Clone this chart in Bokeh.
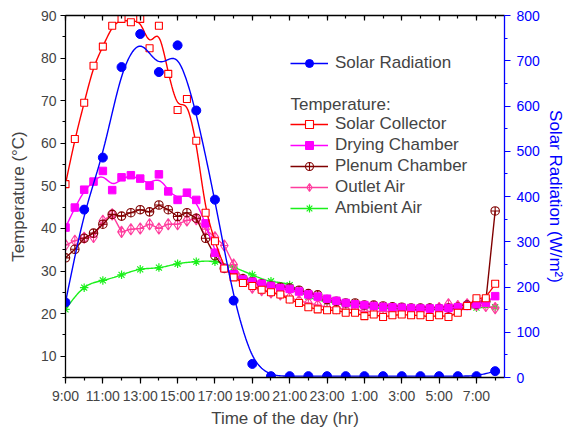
import numpy as np
from bokeh.plotting import figure
from bokeh.models import (Range1d, LinearAxis, FixedTicker, SingleIntervalTicker,
                          Legend, LegendItem, Label)
from bokeh.embed import file_html
from bokeh.resources import INLINE

# ---------------- data ----------------
# x = hours after 9:00
hours = list(range(24))
half_hours = [i * 0.5 for i in range(47)]
tick_hours = list(range(0, 24, 2))
tick_labels = ["9:00", "11:00", "13:00", "15:00", "17:00", "19:00",
               "21:00", "23:00", "1:00", "3:00", "5:00", "7:00"]

solar_radiation = [166, 371, 486, 686, 759, 675, 734, 590, 393, 170, 30, 3,
                   3, 3, 3, 3, 3, 3, 3, 3, 3, 3, 3, 14]

solar_collector = [50.4, 61.0, 69.5, 78.2, 82.7, 87.6, 89.2, 88.4, 89.2, 82.3,
                   87.6, 76.3, 67.8, 70.4, 60.6, 43.7, 37.0, 30.6, 28.5, 27.2,
                   26.5, 25.6, 25.0, 24.5, 23.3, 22.5, 21.5, 21.0, 20.8, 20.8,
                   20.2, 20.2, 19.4, 19.8, 19.2, 19.6, 19.8, 19.6, 19.6, 19.2,
                   19.6, 19.2, 20.2, 21.8, 23.6, 23.6, 27.0]

drying_chamber = [40.2, 44.9, 49.1, 51.0, 53.5, 49.0, 52.0, 52.5, 51.7, 50.0,
                  52.7, 48.7, 46.7, 48.4, 46.7, 41.2, 34.3, 30.7, 29.2, 28.0,
                  27.5, 27.0, 26.5, 26.0, 25.8, 25.2, 24.5, 24.0, 23.5, 23.0,
                  22.5, 22.2, 22.0, 21.8, 21.6, 21.5, 21.4, 21.3, 21.2, 21.2,
                  21.2, 21.3, 21.5, 21.8, 22.2, 22.6, 24.1]

plenum_chamber = [33.1, 35.1, 37.7, 38.9, 41.0, 43.3, 42.9, 43.7, 44.4, 43.9,
                  45.5, 44.4, 42.8, 43.7, 42.4, 37.7, 33.6, 30.6, 29.2, 28.2,
                  27.5, 27.0, 26.5, 26.2, 26.0, 25.5, 24.7, 24.4, 23.3, 22.9,
                  22.5, 22.5, 22.0, 22.0, 21.8, 21.6, 21.5, 21.3, 21.3, 21.3,
                  21.2, 21.3, 21.5, 22.0, 22.2, 22.9, 44.1]

outlet_air = [36.1, 37.1, 37.8, 38.0, 41.8, 43.3, 39.2, 39.8, 40.0, 41.0,
              40.0, 41.0, 41.0, 41.9, 42.2, 39.8, 37.9, 36.0, 31.5, 28.0,
              26.1, 25.5, 25.0, 24.5, 23.8, 23.0, 22.5, 22.0, 21.5, 21.3,
              21.0, 21.0, 20.5, 20.5, 20.5, 20.5, 20.8, 20.8, 20.8, 21.0,
              21.3, 22.2, 21.8, 22.2, 22.0, 21.8, 21.3]

ambient_air = [21.0, 26.1, 27.8, 29.1, 30.4, 30.8, 31.7, 32.2, 32.2, 30.9,
               29.1, 27.6, 26.7, 24.0, 22.8, 22.0, 21.5, 21.2, 21.1, 21.0,
               21.0, 21.2, 21.4, 21.5]


# ---------------- curve helpers (derived from the data) ----------------
def smooth(x, y, bw, grid):
    x = np.asarray(x, float)
    y = np.asarray(y, float)
    out = []
    for g in grid:
        w = np.exp(-0.5 * ((x - g) / bw) ** 2)
        sw = w.sum()
        mx = (w * x).sum() / sw
        my = (w * y).sum() / sw
        vx = (w * (x - mx) ** 2).sum()
        b = (w * (x - mx) * (y - my)).sum() / vx if vx > 1e-12 else 0.0
        out.append(my + b * (g - mx))
    return np.array(out)


def spline(x, y, grid):
    x = np.asarray(x, float)
    y = np.asarray(y, float)
    n = len(x)
    h = np.diff(x)
    A = np.zeros((n, n))
    r = np.zeros(n)
    A[0, 0] = 1
    A[-1, -1] = 1
    for i in range(1, n - 1):
        A[i, i - 1] = h[i - 1]
        A[i, i] = 2 * (h[i - 1] + h[i])
        A[i, i + 1] = h[i]
        r[i] = 6 * ((y[i + 1] - y[i]) / h[i] - (y[i] - y[i - 1]) / h[i - 1])
    M = np.linalg.solve(A, r)
    out = []
    for g in grid:
        i = min(max(np.searchsorted(x, g) - 1, 0), n - 2)
        t0 = x[i + 1] - g
        t1 = g - x[i]
        hi = h[i]
        v = (M[i] * t0 ** 3 / (6 * hi) + M[i + 1] * t1 ** 3 / (6 * hi)
             + (y[i] / hi - M[i] * hi / 6) * t0 + (y[i + 1] / hi - M[i + 1] * hi / 6) * t1)
        out.append(v)
    return np.array(out)


grid = np.linspace(0, 23, 461)

FONT = "Liberation Sans"
RED = "#FF0000"
MAG = "#FF00FF"
WINE = "#800000"
PINK = "#FF3D9E"
GREEN = "#1AF01A"
BLUE = "#0000FF"

p = figure(width=567, height=432, x_range=Range1d(0, 23.5), y_range=Range1d(5, 90),
           output_backend="svg", toolbar_location=None,
           min_border_left=65, min_border_right=57, min_border_top=15, min_border_bottom=55)
p.extra_y_ranges = {"rad": Range1d(0, 800)}
p.xgrid.visible = False
p.ygrid.visible = False
p.outline_line_color = None
p.background_fill_color = "white"

# bottom axis
xa = p.xaxis[0]
xa.ticker = FixedTicker(ticks=tick_hours, minor_ticks=hours)
xa.major_label_overrides = dict(zip(tick_hours, tick_labels))
xa.axis_label = "Time of the day (hr)"
xa.axis_label_text_font = FONT
xa.axis_label_text_font_size = "17px"
xa.axis_label_text_font_style = "normal"
xa.axis_label_standoff = 2
xa.major_label_text_font = FONT
xa.major_label_text_font_size = "14px"
xa.major_label_standoff = 4
xa.major_tick_out = 6
xa.major_tick_in = 0
xa.minor_tick_out = 3
xa.minor_tick_in = 0
xa.axis_line_width = 1.3
xa.major_tick_line_width = 1.2
xa.minor_tick_line_width = 1.2

# left axis
ya = p.yaxis[0]
ya.ticker = SingleIntervalTicker(interval=10, num_minor_ticks=2)
ya.axis_label = "Temperature (°C)"
ya.axis_label_text_font = FONT
ya.axis_label_text_font_size = "17px"
ya.axis_label_text_font_style = "normal"
ya.axis_label_standoff = 10
ya.major_label_text_font = FONT
ya.major_label_text_font_size = "14px"
ya.major_label_standoff = 4
ya.major_tick_out = 5
ya.major_tick_in = 0
ya.minor_tick_out = 3
ya.minor_tick_in = 0
ya.axis_line_width = 1.3
ya.major_tick_line_width = 1.2
ya.minor_tick_line_width = 1.2

# right axis (solar radiation)
ra = LinearAxis(y_range_name="rad", ticker=SingleIntervalTicker(interval=100, num_minor_ticks=2),
                axis_label="Solar Radiation (W/m²)")
ra.axis_label_text_font = FONT
ra.axis_label_text_font_size = "17px"
ra.axis_label_text_font_style = "normal"
ra.axis_label_text_color = BLUE
ra.axis_label_standoff = 3
ra.major_label_text_font = FONT
ra.major_label_text_font_size = "14px"
ra.major_label_text_color = BLUE
ra.major_label_standoff = 6
ra.major_tick_out = 6
ra.major_tick_in = 0
ra.minor_tick_out = 3
ra.minor_tick_in = 0
ra.axis_line_color = BLUE
ra.major_tick_line_color = BLUE
ra.minor_tick_line_color = BLUE
ra.axis_line_width = 1.3
ra.major_tick_line_width = 1.2
ra.minor_tick_line_width = 1.2
p.add_layout(ra, "right")

# top axis (ticks only)
ta = LinearAxis(ticker=FixedTicker(ticks=tick_hours, minor_ticks=hours))
ta.major_label_overrides = {t: "" for t in tick_hours}
ta.major_label_standoff = 0
ta.major_tick_in = 5
ta.major_tick_out = 0
ta.minor_tick_in = 3
ta.minor_tick_out = 0
ta.axis_line_width = 1.3
ta.major_tick_line_width = 1.2
ta.minor_tick_line_width = 1.2
p.add_layout(ta, "above")

LW = 1.4

# Ambient air
amb_curve = p.line(grid, spline(hours, ambient_air, grid), line_color=GREEN, line_width=LW)
amb_pts = p.scatter(hours, ambient_air, marker="asterisk", size=8.5, line_color=GREEN, line_width=1.2)

# Outlet air
out_line = p.line(half_hours, outlet_air, line_color=PINK, line_width=LW)
out_pts = p.scatter(half_hours, outlet_air, marker="diamond_cross", size=11.5, line_color=PINK,
                    fill_color="white", fill_alpha=0.0, line_width=1.1)

# Plenum chamber
pl_line = p.line(half_hours, plenum_chamber, line_color=WINE, line_width=LW)
pl_pts = p.scatter(half_hours, plenum_chamber, marker="circle_cross", size=8.5, line_color=WINE,
                   fill_alpha=0.0, line_width=1.1)

# Drying chamber
dr_curve = p.line(grid, smooth(half_hours, drying_chamber, 0.35, grid), line_color=MAG, line_width=LW)
dr_pts = p.scatter(half_hours, drying_chamber, marker="square", size=7.5, line_color=MAG,
                   fill_color=MAG, line_width=1)

# Solar collector
sc_curve = p.line(grid, smooth(half_hours, solar_collector, 0.3, grid), line_color=RED, line_width=LW)
sc_pts = p.scatter(half_hours, solar_collector, marker="square", size=7, line_color=RED,
                   fill_color="white", line_width=1.1)

# Solar radiation
rad_curve = p.line(grid, smooth(hours, solar_radiation, 0.6, grid), line_color=BLUE,
                   line_width=LW, y_range_name="rad")
rad_pts = p.scatter(hours, solar_radiation, marker="circle", size=9, line_color=BLUE,
                    fill_color=BLUE, y_range_name="rad")

legend_style = dict(label_text_font=FONT, label_text_font_size="17px", glyph_width=38,
                    glyph_height=20, label_height=20, spacing=1, label_standoff=7,
                    padding=0, margin=0, border_line_alpha=0, background_fill_alpha=0)

leg1 = Legend(items=[LegendItem(label="Solar Radiation", renderers=[rad_curve, rad_pts])],
              location=(225, 304), **legend_style)
leg2 = Legend(items=[
    LegendItem(label="Solar Collector", renderers=[sc_curve, sc_pts]),
    LegendItem(label="Drying Chamber", renderers=[dr_curve, dr_pts]),
    LegendItem(label="Plenum Chamber", renderers=[pl_line, pl_pts]),
    LegendItem(label="Outlet Air", renderers=[out_line, out_pts]),
    LegendItem(label="Ambient Air", renderers=[amb_curve, amb_pts]),
], location=(225, 159), **legend_style)
p.add_layout(leg1)
p.add_layout(leg2)

p.add_layout(Label(x=225, y=273, x_units="screen", y_units="screen", text="Temperature:",
                   text_font=FONT, text_font_size="17px", text_baseline="middle",
                   text_align="left"))

open("out.html", "w").write(file_html(p, INLINE))
